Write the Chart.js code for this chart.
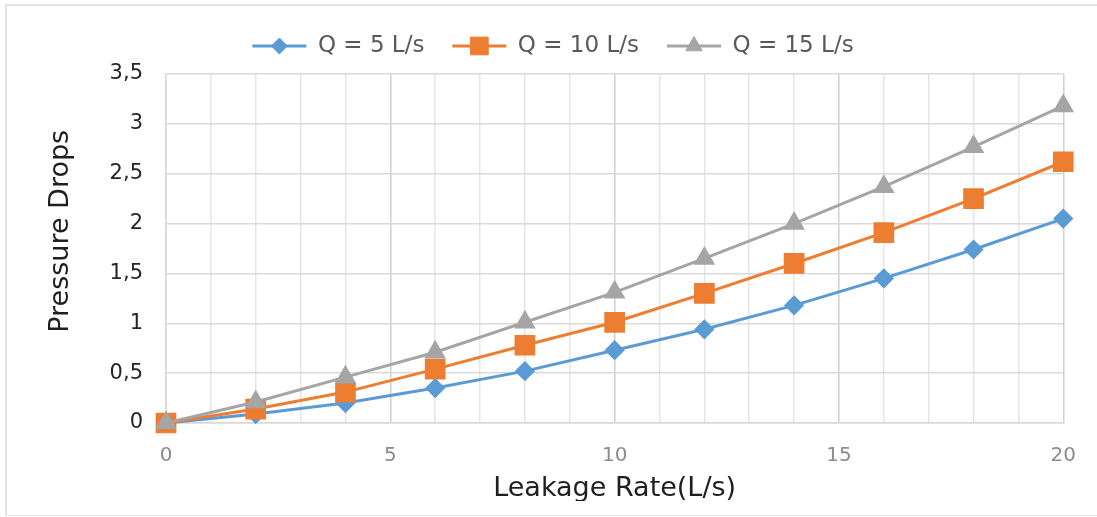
<!DOCTYPE html>
<html>
<head>
<meta charset="utf-8">
<title>Pressure drops vs leakage rate</title>
<script src="https://cdn.jsdelivr.net/npm/chart.js@4.4.1/dist/chart.umd.min.js"></script>
<style>
  html, body { margin: 0; padding: 0; background: #fff; }
  #wrap { position: relative; width: 1097px; height: 517px; overflow: hidden; }
  #chart { position: absolute; left: 0; top: 0; }
  /* frame of the original screenshot */
  #frame { position: absolute; left: 5px; top: 4px; width: 1100px; height: 509px;
           border-left: 2px solid #e3e3e3; border-top: 2px solid #e3e3e3; border-bottom: 1px solid #e8e8e8;
           pointer-events: none; }
  #cut { position: absolute; left: 7px; top: 501px; width: 1090px; height: 13px; background: #fff; }
</style>
</head>
<body>
<div id="wrap">
  <canvas id="chart" width="1097" height="517"></canvas>
  <div id="cut"></div>
  <div id="frame"></div>
</div>
<script>
// data
const xValues = [0, 2, 4, 6, 8, 10, 12, 14, 16, 18, 20];
const q5  = [0, 0.09, 0.20, 0.35, 0.52, 0.73, 0.94, 1.18, 1.45, 1.74, 2.05];
const q10 = [0, 0.14, 0.31, 0.54, 0.78, 1.01, 1.30, 1.60, 1.91, 2.25, 2.62];
const q15 = [0, 0.21, 0.46, 0.71, 1.01, 1.31, 1.65, 2.00, 2.37, 2.77, 3.18];
const seriesNames = ['Q = 5 L/s', 'Q = 10 L/s', 'Q = 15 L/s'];
const xTickLabels = [0, 5, 10, 15, 20];
const yTicks = [0, 0.5, 1, 1.5, 2, 2.5, 3, 3.5];

const FONT = "'DejaVu Sans', 'Liberation Sans', sans-serif";
const BLUE = '#5b9bd5', ORANGE = '#ed7d31', GRAY = '#a5a5a5';
const LEGEND_LINE = 54;

const toPoints = ys => xValues.map((x, i) => ({ x, y: ys[i] }));

// legend: line + marker, drawn over the (transparent) legend boxes
const legendMarks = {
  id: 'legendMarks',
  afterDraw(chart) {
    const lg = chart.legend;
    if (!lg || !lg.legendHitBoxes) return;
    const ctx = chart.ctx;
    lg.legendItems.forEach((item, i) => {
      const box = lg.legendHitBoxes[i];
      const ds = chart.data.datasets[item.datasetIndex];
      const cy = box.top + box.height / 2;
      ctx.save();
      ctx.strokeStyle = ds.borderColor;
      ctx.lineWidth = ds.borderWidth;
      ctx.beginPath();
      ctx.moveTo(box.left, cy);
      ctx.lineTo(box.left + LEGEND_LINE, cy);
      ctx.stroke();
      ctx.fillStyle = ds.pointBackgroundColor;
      ctx.strokeStyle = ds.pointBorderColor;
      ctx.lineWidth = 1;
      Chart.helpers.drawPoint(ctx, { pointStyle: ds.pointStyle, radius: ds.pointRadius, rotation: 0, borderWidth: 1 },
        box.left + LEGEND_LINE / 2, cy);
      ctx.restore();
    });
  }
};

const mkSet = (label, ys, color, style, radius, order) => ({
  label,
  data: toPoints(ys),
  borderColor: color,
  backgroundColor: color,
  pointBackgroundColor: color,
  pointBorderColor: color,
  pointStyle: style,
  pointRadius: radius,
  pointHoverRadius: radius,
  borderWidth: 3,
  tension: 0,
  clip: false,
  order
});

new Chart(document.getElementById('chart'), {
  type: 'line',
  data: {
    datasets: [
      mkSet(seriesNames[0], q5, BLUE, 'rectRot', 8, 3),
      mkSet(seriesNames[1], q10, ORANGE, 'rect', 12.5, 2),
      mkSet(seriesNames[2], q15, GRAY, 'triangle', 9.5, 1)
    ]
  },
  options: {
    responsive: false,
    animation: false,
    layout: { padding: { top: 0, left: 40, right: 31, bottom: 6 } },
    plugins: {
      tooltip: { enabled: false },
      legend: {
        position: 'top',
        labels: {
          boxWidth: LEGEND_LINE,
          boxHeight: 36,
          padding: 28,
          color: '#595959',
          font: { family: FONT, size: 23 },
          sort: (a, b) => a.datasetIndex - b.datasetIndex,
          generateLabels: chart => Chart.defaults.plugins.legend.labels.generateLabels(chart)
            .map(l => Object.assign(l, { fillStyle: 'rgba(0,0,0,0)', strokeStyle: 'rgba(0,0,0,0)', lineWidth: 0 }))
        }
      }
    },
    scales: {
      x: {
        type: 'linear',
        min: 0,
        max: 20,
        ticks: {
          stepSize: 1,
          autoSkip: false,
          maxRotation: 0,
          padding: 21,
          color: '#8c8c8c',
          font: { family: FONT, size: 20 },
          callback: v => xTickLabels.includes(v) ? String(v) : ''
        },
        grid: {
          drawTicks: false,
          color: c => (c.tick && c.tick.value % 5 === 0) ? '#d0d0d0' : '#e6e6e6',
          lineWidth: 1.5
        },
        border: { color: '#d9d9d9', width: 1.5 },
        title: {
          display: true,
          text: 'Leakage Rate(L/s)',
          color: '#1f1f1f',
          font: { family: FONT, size: 27 },
          padding: { top: 6, bottom: 6 }
        },
        afterFit: s => { s.height = 88; }
      },
      y: {
        min: 0,
        max: 3.5,
        afterBuildTicks: s => { s.ticks = yTicks.map(v => ({ value: v })); },
        ticks: {
          padding: 23,
          color: '#262626',
          font: { family: FONT, size: 21 },
          callback: v => String(v).replace('.', ',')
        },
        grid: { drawTicks: false, color: '#dadada', lineWidth: 1.5 },
        border: { color: '#d9d9d9', width: 1.5 },
        title: {
          display: true,
          text: '\u00a0\u00a0\u00a0\u00a0Pressure Drops',
          color: '#1f1f1f',
          font: { family: FONT, size: 27 },
          padding: { top: 5, bottom: 5 }
        },
        afterFit: s => { s.width = 126; }
      }
    }
  },
  plugins: [legendMarks]
});
</script>
</body>
</html>
